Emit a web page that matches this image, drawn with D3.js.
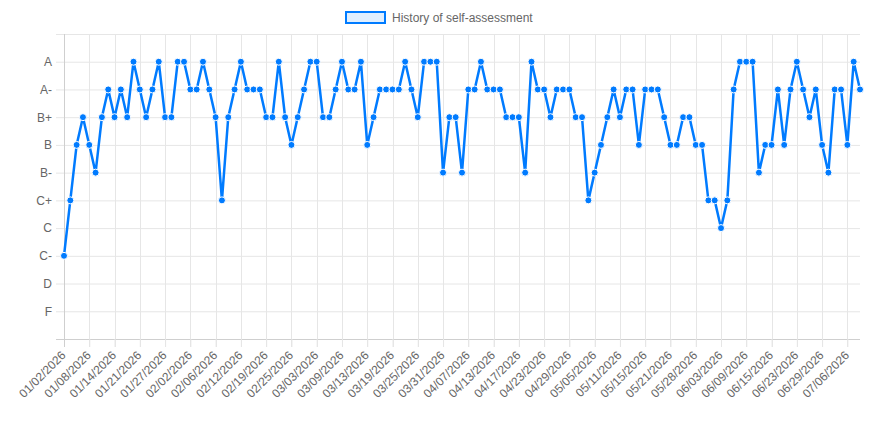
<!DOCTYPE html>
<html>
<head>
<meta charset="utf-8">
<script src="https://cdn.jsdelivr.net/npm/d3@7"></script>
<style>
  body { margin: 0; background: #fff; }
  svg { display: block; font-family: "Helvetica Neue", Helvetica, Arial, "Liberation Sans", sans-serif; }
</style>
</head>
<body>
<div id="chart-container"></div>
<script>
// Grade scale, top to bottom
const gradeLabels = ["A", "A-", "B+", "B", "B-", "C+", "C", "C-", "D", "F"];

// Dates of each self-assessment
const dates = [
  "01/02/2026", "01/05/2026", "01/06/2026", "01/07/2026",
  "01/08/2026", "01/09/2026", "01/12/2026", "01/13/2026",
  "01/14/2026", "01/15/2026", "01/16/2026", "01/20/2026",
  "01/21/2026", "01/22/2026", "01/23/2026", "01/26/2026",
  "01/27/2026", "01/28/2026", "01/29/2026", "01/30/2026",
  "02/02/2026", "02/03/2026", "02/04/2026", "02/05/2026",
  "02/06/2026", "02/09/2026", "02/10/2026", "02/11/2026",
  "02/12/2026", "02/13/2026", "02/17/2026", "02/18/2026",
  "02/19/2026", "02/20/2026", "02/23/2026", "02/24/2026",
  "02/25/2026", "02/26/2026", "02/27/2026", "03/02/2026",
  "03/03/2026", "03/04/2026", "03/05/2026", "03/06/2026",
  "03/09/2026", "03/10/2026", "03/11/2026", "03/12/2026",
  "03/13/2026", "03/16/2026", "03/17/2026", "03/18/2026",
  "03/19/2026", "03/20/2026", "03/23/2026", "03/24/2026",
  "03/25/2026", "03/26/2026", "03/27/2026", "03/30/2026",
  "03/31/2026", "04/01/2026", "04/02/2026", "04/06/2026",
  "04/07/2026", "04/08/2026", "04/09/2026", "04/10/2026",
  "04/13/2026", "04/14/2026", "04/15/2026", "04/16/2026",
  "04/17/2026", "04/20/2026", "04/21/2026", "04/22/2026",
  "04/23/2026", "04/24/2026", "04/27/2026", "04/28/2026",
  "04/29/2026", "04/30/2026", "05/01/2026", "05/04/2026",
  "05/05/2026", "05/06/2026", "05/07/2026", "05/08/2026",
  "05/11/2026", "05/12/2026", "05/13/2026", "05/14/2026",
  "05/15/2026", "05/18/2026", "05/19/2026", "05/20/2026",
  "05/21/2026", "05/22/2026", "05/26/2026", "05/27/2026",
  "05/28/2026", "05/29/2026", "06/01/2026", "06/02/2026",
  "06/03/2026", "06/04/2026", "06/05/2026", "06/08/2026",
  "06/09/2026", "06/10/2026", "06/11/2026", "06/12/2026",
  "06/15/2026", "06/16/2026", "06/18/2026", "06/22/2026",
  "06/23/2026", "06/24/2026", "06/25/2026", "06/26/2026",
  "06/29/2026", "06/30/2026", "07/01/2026", "07/02/2026",
  "07/06/2026", "07/07/2026", "07/08/2026"
];

// Grade given on each date
const grades = [
  "C-", "C+", "B", "B+", "B", "B-", "B+", "A-", "B+", "A-",
  "B+", "A", "A-", "B+", "A-", "A", "B+", "B+", "A", "A",
  "A-", "A-", "A", "A-", "B+", "C+", "B+", "A-", "A", "A-",
  "A-", "A-", "B+", "B+", "A", "B+", "B", "B+", "A-", "A",
  "A", "B+", "B+", "A-", "A", "A-", "A-", "A", "B", "B+",
  "A-", "A-", "A-", "A-", "A", "A-", "B+", "A", "A", "A",
  "B-", "B+", "B+", "B-", "A-", "A-", "A", "A-", "A-", "A-",
  "B+", "B+", "B+", "B-", "A", "A-", "A-", "B+", "A-", "A-",
  "A-", "B+", "B+", "C+", "B-", "B", "B+", "A-", "B+", "A-",
  "A-", "B", "A-", "A-", "A-", "B+", "B", "B", "B+", "B+",
  "B", "B", "C+", "C+", "C", "C+", "A-", "A", "A", "A",
  "B-", "B", "B", "A-", "B", "A-", "A", "A-", "B+", "A-",
  "B", "B-", "A-", "A-", "B", "A", "A-"
];

const seriesName = "History of self-assessment";

// Only every 4th date gets a label on the axis
const shownDates = dates.filter((d, i) => i % 4 === 0);

const width = 885;
const height = 427;
const marginTop = 34;
const marginRight = 25;
const marginBottom = 88;
const marginLeft = 64;

const lineColor = "#007bff";
const gridColor = "#e6e6e6";
const borderColor = "#cfcfcf";
const textColor = "#666";

const data = dates.map((d, i) => ({ date: d, grade: grades[i] }));

const x = d3.scalePoint()
  .domain(dates)
  .range([marginLeft, width - marginRight]);

// one empty step above A and below F
const y = d3.scalePoint()
  .domain(gradeLabels)
  .range([marginTop, height - marginBottom])
  .padding(1);

const svg = d3.create("svg")
  .attr("width", width)
  .attr("height", height)
  .attr("viewBox", [0, 0, width, height]);

// horizontal grid, incl. the empty top row
const yGrid = [marginTop, ...gradeLabels.map(g => y(g))];
svg.append("g")
  .selectAll("line")
  .data(yGrid)
  .join("line")
  .attr("x1", marginLeft - 8)
  .attr("x2", width - marginRight)
  .attr("y1", d => d + 0.5)
  .attr("y2", d => d + 0.5)
  .attr("stroke", gridColor)
  .attr("stroke-width", 1);

// vertical grid at labelled dates
svg.append("g")
  .selectAll("line")
  .data(shownDates.slice(1))
  .join("line")
  .attr("x1", d => Math.round(x(d)) + 0.5)
  .attr("x2", d => Math.round(x(d)) + 0.5)
  .attr("y1", marginTop)
  .attr("y2", height - marginBottom + 8)
  .attr("stroke", gridColor)
  .attr("stroke-width", 1);

// axes
svg.append("g")
  .attr("transform", `translate(0,${height - marginBottom})`)
  .call(d3.axisBottom(x).tickValues(shownDates).tickSize(8).tickPadding(4))
  .call(g => g.select(".domain").attr("stroke", borderColor).attr("d", `M${marginLeft - 8},0.5H${width - marginRight}`))
  .call(g => g.selectAll(".tick line").attr("stroke", gridColor))
  .call(g => g.selectAll(".tick text")
    .attr("fill", textColor)
    .attr("font-size", 12)
    .attr("text-anchor", "end")
    .attr("y", 0)
    .attr("dy", null)
    .attr("transform", "translate(2,17) rotate(-45)"));

svg.append("g")
  .attr("transform", `translate(${marginLeft},0)`)
  .call(d3.axisLeft(y).tickSize(8).tickPadding(4))
  .call(g => g.select(".domain").attr("stroke", borderColor).attr("d", `M0.5,${marginTop}V${height - marginBottom + 8}`))
  .call(g => g.selectAll(".tick line").remove())
  .call(g => g.selectAll(".tick text")
    .attr("fill", textColor)
    .attr("font-size", 12));

svg.selectAll("g").attr("font-family", null);

// the line
const line = d3.line()
  .x(d => x(d.date))
  .y(d => y(d.grade));

svg.append("path")
  .datum(data)
  .attr("fill", "none")
  .attr("stroke", lineColor)
  .attr("stroke-width", 2.5)
  .attr("d", line);

svg.append("g")
  .selectAll("circle")
  .data(data)
  .join("circle")
  .attr("cx", d => x(d.date))
  .attr("cy", d => y(d.grade))
  .attr("r", 3.5)
  .attr("fill", lineColor)
  .attr("stroke", "#fff")
  .attr("stroke-width", 1);

// legend
const legend = svg.append("g")
  .attr("transform", "translate(346,12)");

legend.append("rect")
  .attr("width", 39)
  .attr("height", 11)
  .attr("fill", "rgba(0,123,255,0.12)")
  .attr("stroke", lineColor)
  .attr("stroke-width", 2);

legend.append("text")
  .attr("x", 46)
  .attr("y", 10)
  .attr("font-size", 12)
  .attr("fill", textColor)
  .text(seriesName);

document.getElementById("chart-container").appendChild(svg.node());
</script>
</body>
</html>
